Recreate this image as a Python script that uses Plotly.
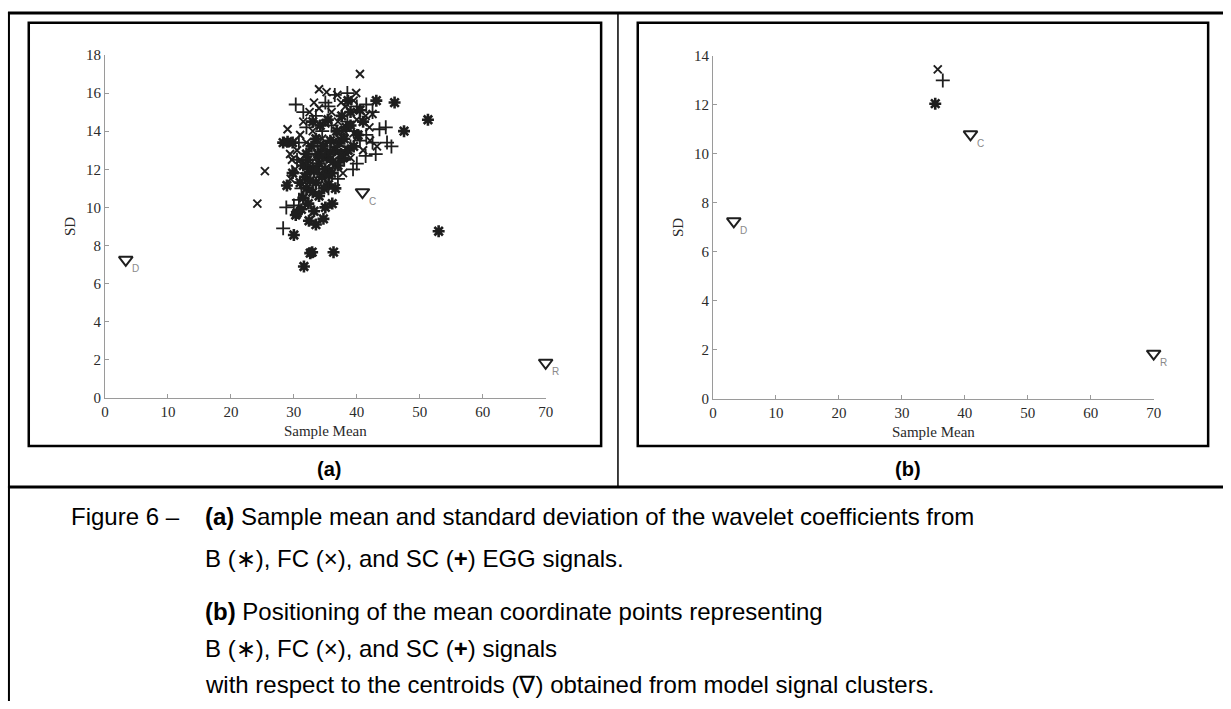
import plotly.graph_objects as go

# ---- panel (a): per-signal sample mean / SD of wavelet coefficients ----
b_mean = [53.0, 51.3, 46.0, 47.5, 43.1, 38.6, 31.6, 32.6, 32.9, 36.3, 30.0, 32.4,
          34.7, 30.3, 33.2, 36.1, 30.5, 28.9, 29.8, 28.3, 29.0, 29.8, 31.5, 32.0,
          31.8, 32.5, 32.2, 33.0, 33.5, 33.2, 34.0, 33.8, 34.5, 35.0, 35.2, 35.5,
          36.0, 36.2, 36.5, 37.0, 37.2, 37.5, 38.0, 38.3, 36.8, 35.8, 34.6, 33.5,
          32.8, 34.2, 35.4, 37.6, 39.0, 39.5, 40.2, 41.0, 40.5, 39.0, 33.0, 31.5,
          31.0, 32.3, 34.0, 35.0, 33.5, 35.8, 31.2, 32.0, 34.8, 36.6, 37.8, 38.6,
          33.6, 34.4, 32.6, 35.6]
b_sd = [8.75, 14.6, 15.5, 14.0, 15.6, 15.6, 6.9, 7.6, 7.65, 7.65, 8.55, 9.3,
        9.4, 9.6, 9.8, 10.2, 9.7, 11.15, 11.8, 13.4, 13.45, 13.4, 10.5, 11.0,
        11.6, 12.0, 12.5, 10.8, 11.3, 11.9, 12.3, 12.8, 11.6, 12.0, 12.6, 11.2,
        11.8, 12.4, 13.0, 12.2, 13.4, 12.8, 13.6, 14.2, 14.0, 13.5, 13.2, 13.6,
        13.2, 14.3, 14.6, 14.8, 14.3, 13.2, 13.8, 14.5, 15.1, 15.0, 14.5, 12.2,
        11.3, 10.2, 10.6, 10.0, 9.1, 12.9, 9.9, 12.8, 11.0, 11.0, 12.6, 13.0,
        12.0, 12.7, 11.4, 11.7]

fc_mean = [40.5, 34.0, 35.2, 36.9, 39.9, 25.4, 24.2, 29.0, 29.4, 29.7, 28.8, 41.4,
           42.5, 43.2, 42.1, 39.5, 40.2, 30.5, 31.0, 31.5, 32.5, 33.0, 34.0, 35.0,
           36.0, 37.0, 38.0, 38.5, 37.5, 36.5, 35.5, 34.5, 33.5, 32.0, 30.2, 39.0,
           41.0, 40.0, 42.0, 31.0, 36.0, 38.2, 33.2, 39.5, 29.5, 37.8]
fc_sd = [17.0, 16.2, 16.05, 15.9, 16.0, 11.9, 10.2, 14.1, 12.8, 12.5, 13.4, 14.8,
         14.9, 13.2, 13.5, 13.9, 13.7, 13.0, 13.8, 14.5, 15.0, 14.0, 15.2, 14.4,
         15.0, 14.5, 14.0, 13.0, 15.5, 13.5, 12.8, 13.6, 12.6, 13.4, 12.0, 12.6,
         13.0, 14.6, 14.2, 12.5, 12.0, 15.3, 15.5, 15.6, 11.5, 11.8]

sc_mean = [30.3, 38.5, 35.0, 28.3, 28.8, 30.0, 30.8, 30.8, 39.4, 41.4, 44.8, 45.5,
           43.6, 44.6, 36.5, 35.5, 40.0, 41.5, 42.5, 32.0, 33.5, 34.5, 36.0, 37.5,
           38.5, 39.5, 40.5, 41.5, 42.5, 43.0, 40.0, 38.0, 37.0, 35.5, 34.0, 33.0,
           32.0, 31.2, 30.5, 36.8, 35.0, 33.8, 39.0, 31.5]
sc_sd = [15.4, 16.0, 15.5, 8.9, 10.0, 10.1, 10.4, 13.4, 12.0, 12.7, 13.4, 13.2,
         14.1, 14.2, 15.9, 15.3, 15.3, 15.4, 15.0, 14.2, 14.8, 14.0, 14.3, 13.8,
         14.5, 14.0, 13.5, 13.8, 13.4, 12.8, 12.3, 12.5, 11.5, 11.0, 11.8, 12.2,
         11.8, 11.0, 12.5, 13.2, 13.0, 13.4, 13.2, 15.0]

# ---- panel (b): mean coordinate point of each signal class ----
class_mean_x = {"B": 35.3, "FC": 35.7, "SC": 36.5}
class_mean_y = {"B": 12.05, "FC": 13.45, "SC": 13.0}

# ---- centroids of the model signal clusters ----
centroid_names = ["C", "D", "R"]
centroid_x = [40.9, 3.3, 70.0]
centroid_y = [10.8, 7.25, 1.85]

X_TICKS = [0, 10, 20, 30, 40, 50, 60, 70]
Y_TICKS_A = [0, 2, 4, 6, 8, 10, 12, 14, 16, 18]
Y_TICKS_B = [0, 2, 4, 6, 8, 10, 12, 14]

W, H = 1231, 709
INK = "#1e1e1e"


def px(x):
    return x / W


def py(y):
    return 1 - y / H


fig = go.Figure()

sym = {"B": ("asterisk", 10, 2.6), "FC": ("x-thin", 8, 1.9), "SC": ("cross-thin", 10, 1.8)}


def add_points(xs, ys, kind, xa, ya):
    s, size, lw = sym[kind]
    fig.add_trace(go.Scatter(
        x=xs, y=ys, mode="markers", xaxis=xa, yaxis=ya, showlegend=False,
        cliponaxis=False,
        marker=dict(symbol=s, size=size, color=INK, line=dict(color=INK, width=lw))))


add_points(b_mean, b_sd, "B", "x", "y")
add_points(fc_mean, fc_sd, "FC", "x", "y")
add_points(sc_mean, sc_sd, "SC", "x", "y")
for k in ["B", "FC", "SC"]:
    add_points([class_mean_x[k]], [class_mean_y[k]], k, "x2", "y2")

for xa, ya in [("x", "y"), ("x2", "y2")]:
    fig.add_trace(go.Scatter(
        x=centroid_x, y=centroid_y, mode="markers", xaxis=xa, yaxis=ya, showlegend=False,
        cliponaxis=False,
        marker=dict(symbol="triangle-down-open", size=12, color=INK,
                    line=dict(color=INK, width=2))))
    for name, cx, cy in zip(centroid_names, centroid_x, centroid_y):
        fig.add_annotation(x=cx, y=cy, xref=xa, yref=ya, text=name, showarrow=False,
                           xshift=10, yshift=-9,
                           font=dict(family="Liberation Sans", size=10, color="#8a8a8a"))

tick_font = dict(family="Liberation Serif", size=15, color="#2a2a2a")
axis_common = dict(showline=True, linecolor="#9a9a9a", linewidth=1, ticks="inside",
                   ticklen=4, tickcolor="#9a9a9a", showgrid=False, zeroline=False,
                   tickfont=tick_font, mirror=False)

fig.update_layout(
    width=W, height=H, margin=dict(l=0, r=0, t=0, b=0),
    paper_bgcolor="white", plot_bgcolor="white",
    xaxis=dict(domain=[px(102), px(547)], range=[0, 70], tickvals=X_TICKS, anchor="y",
               title=dict(text="Sample Mean", font=tick_font, standoff=6), **axis_common),
    yaxis=dict(domain=[py(399), py(48)], range=[0, 18], tickvals=Y_TICKS_A, anchor="x",
               title=dict(text="SD", font=tick_font, standoff=6), **axis_common),
    xaxis2=dict(domain=[px(716), px(1161)], range=[0, 70], tickvals=X_TICKS, anchor="y2",
                title=dict(text="Sample Mean", font=tick_font, standoff=6), **axis_common),
    yaxis2=dict(domain=[py(400), py(49)], range=[0, 14], tickvals=Y_TICKS_B, anchor="x2",
                title=dict(text="SD", font=tick_font, standoff=6), **axis_common),
)

# table rules and panel frames (paper coordinates in pixels)
def hline(x0, x1, y, w):
    fig.add_shape(type="line", xref="paper", yref="paper", x0=px(x0), x1=px(x1),
                  y0=py(y), y1=py(y), line=dict(color="black", width=w))


def vline(x, y0, y1, w):
    fig.add_shape(type="line", xref="paper", yref="paper", x0=px(x), x1=px(x),
                  y0=py(y0), y1=py(y1), line=dict(color="black", width=w))


hline(4, W, 5, 3)
vline(5, 4, H, 2)
vline(620, 5, 490, 1.5)
hline(4, W, 490, 3)
for x0, x1 in [(25, 603), (640, 1216)]:
    fig.add_shape(type="rect", xref="paper", yref="paper", x0=px(x0), x1=px(x1),
                  y0=py(448), y1=py(15), line=dict(color="black", width=2.5))

label_font = dict(family="Liberation Sans", size=20, color="black")
for t, x in [("<b>(a)</b>", 314), ("<b>(b)</b>", 928)]:
    fig.add_annotation(x=px(x), y=py(472), xref="paper", yref="paper", text=t,
                       showarrow=False, font=label_font)

cap_font = dict(family="Liberation Sans", size=24, color="black")
caption = [
    (66, 520, "Figure 6 –"),
    (201, 520, "<b>(a)</b> Sample mean and standard deviation of the wavelet coefficients from"),
    (201, 563, "B (∗), FC (×), and SC (<b>+</b>) EGG signals."),
    (201, 617, "<b>(b)</b> Positioning of the mean coordinate points representing"),
    (201, 655, "B (∗), FC (×), and SC (<b>+</b>) signals"),
    (201, 692, "with respect to the centroids (∇) obtained from model signal clusters."),
]
for x, y, t in caption:
    fig.add_annotation(x=px(x), y=py(y), xref="paper", yref="paper", text=t,
                       showarrow=False, xanchor="left", yanchor="middle", font=cap_font)

fig.write_html("out.html")
